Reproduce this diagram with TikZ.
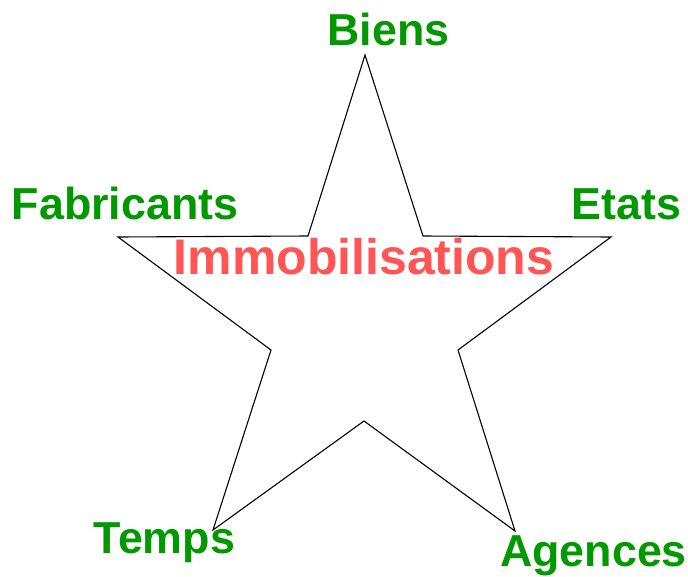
\documentclass[tikz,border=0pt]{standalone}
\usepackage{fontspec}
\setmainfont{Liberation Sans}
\definecolor{lblgreen}{HTML}{009900}
\definecolor{lblred}{HTML}{FF5555}
\begin{document}
\begin{tikzpicture}[x=1pt,y=-1pt,
  lbl/.style={text=lblgreen,font=\fontsize{44.8}{44.8}\selectfont\bfseries,anchor=base,inner sep=0pt},
  title/.style={text=lblred,font=\fontsize{50}{50}\selectfont\bfseries,anchor=base,inner sep=0pt},
  starline/.style={draw=black,line width=1.1pt,line join=miter}]
\useasboundingbox (0,0) rectangle (688,576);
% star vertices
\coordinate (pT) at (365,55);
\coordinate (iTR) at (423,236);
\coordinate (pR) at (611,237);
\coordinate (iR) at (458,350);
\coordinate (pBR) at (515,531);
\coordinate (iB) at (364,421);
\coordinate (pBL) at (213,530);
\coordinate (iL) at (271,350);
\coordinate (pL) at (118,237);
\coordinate (iTL) at (308,236);
\draw[starline] (pT) -- (iTR) -- (pR) -- (iR) -- (pBR) -- (iB) -- (pBL) -- (iL) -- (pL) -- (iTL) -- cycle;
% labels
\node[lbl] (biens) at (388.5,45) {Biens};
\node[lbl] (fabricants) at (125,219) {Fabricants};
\node[lbl] (etats) at (626.5,219) {Etats};
\node[lbl] (temps) at (164.5,553) {Temps};
\node[lbl] (agences) at (593.5,566) {Agences};
\node[title] (immo) at (364,274) {Immobilisations};
\end{tikzpicture}
\end{document}
